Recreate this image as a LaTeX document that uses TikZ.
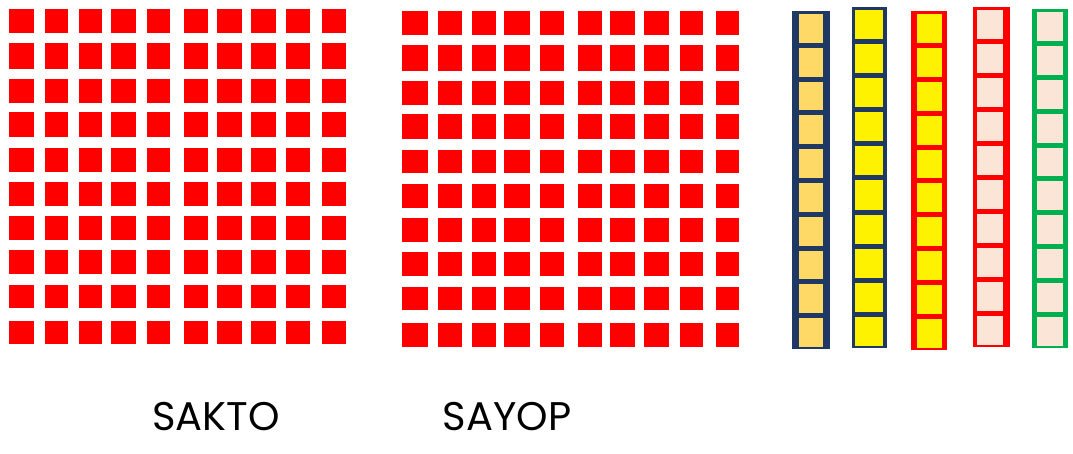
\documentclass[tikz,border=0pt]{standalone}
\usepackage{fontspec}
\setmainfont{Poppins}
\definecolor{navy}{HTML}{203864}
\definecolor{lorange}{HTML}{FFD966}
\definecolor{peach}{HTML}{FBE5D6}
\definecolor{ggreen}{HTML}{00B050}
\definecolor{rred}{HTML}{FF0000}
\tikzset{
  sq/.style={fill=rred,draw=none},
  lab/.style={font=\fontsize{40}{40}\selectfont, text=black, inner sep=0pt, anchor=center},
}
\begin{document}
\begin{tikzpicture}[x=1pt,y=-1pt]
\useasboundingbox (0,0) rectangle (1073,454);
% left grid
\foreach \xl/\xr in {9/34,45/68,79/102,111/136,147/170,184/208,217/242,251/276,286/310,322/346}{
  \foreach \yt/\yb in {9/33,43/69,79/103,112/137,148/172,182/206,216/240,250/274,285/308,321/344}{
    \fill[sq] (\xl,\yt) rectangle (\xr,\yb);
  }
}
% middle grid
\foreach \xl/\xr in {402/428,438/462,472/496,504/530,540/564,578/602,610/635,644/669,680/703,716/739}{
  \foreach \yt/\yb in {11/35,45/71,81/105,114/139,150/173,184/208,218/242,252/276,287/310,323/347}{
    \fill[sq] (\xl,\yt) rectangle (\xr,\yb);
  }
}
% columns
\foreach \L/\R/\T/\B/\il/\ir/\bc/\fc in {
  792/830/11/349/799/823/navy/lorange,
  852/887/7/348/855/883/navy/yellow,
  911/947/11/350/917/942/rred/yellow,
  973/1010/7/347/977/1003/rred/peach,
  1032/1068/9/348/1037/1063/ggreen/peach}{
  \fill[\bc] (\L,\T) rectangle (\R,\B);
  \pgfmathsetmacro{\p}{(\B-\T)/10}
  \foreach \k in {0,...,9}{
    \fill[\fc] (\il,{\T+\k*\p+3}) rectangle (\ir,{\T+(\k+1)*\p-2});
  }
}
\node[lab] (sakto) at (216,417) {SAKTO};
\node[lab] (sayop) at (507,417) {SAYOP};
\end{tikzpicture}
\end{document}
